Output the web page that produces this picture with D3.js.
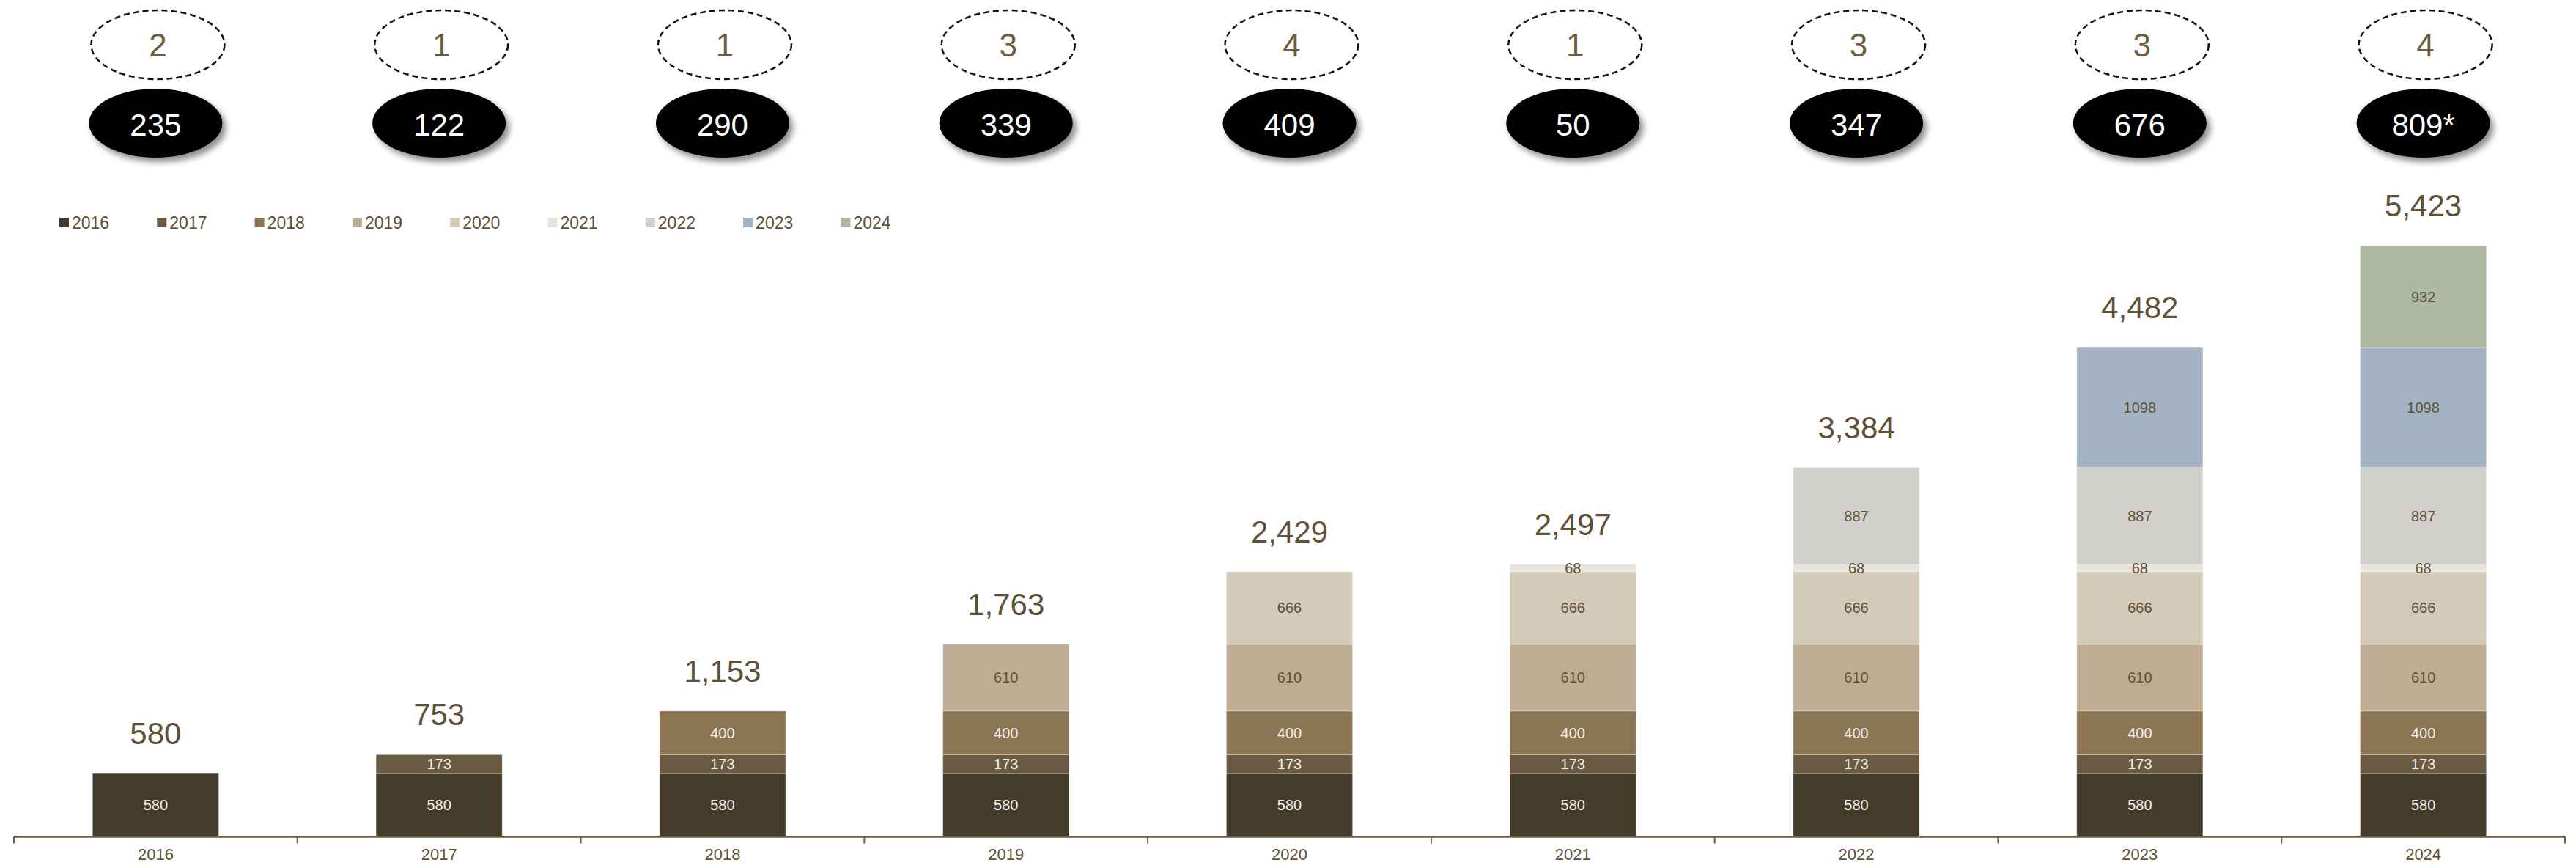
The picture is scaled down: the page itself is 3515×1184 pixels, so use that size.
<!DOCTYPE html>
<html>
<head>
<meta charset="utf-8">
<script src="https://cdn.jsdelivr.net/npm/d3@7"></script>
<style>
  body { margin: 0; background: #fff; }
  text { font-family: "Liberation Sans", Arial, Helvetica, sans-serif; }
</style>
</head>
<body>
<script>
// categories (x axis) and cohorts (legend / stack keys)
const years = ["2016", "2017", "2018", "2019", "2020", "2021", "2022", "2023", "2024"];
const cohorts = ["2016", "2017", "2018", "2019", "2020", "2021", "2022", "2023", "2024"];

// one array per cohort, value in each year
const c2016 = [580, 580, 580, 580, 580, 580, 580, 580, 580];
const c2017 = [0, 173, 173, 173, 173, 173, 173, 173, 173];
const c2018 = [0, 0, 400, 400, 400, 400, 400, 400, 400];
const c2019 = [0, 0, 0, 610, 610, 610, 610, 610, 610];
const c2020 = [0, 0, 0, 0, 666, 666, 666, 666, 666];
const c2021 = [0, 0, 0, 0, 0, 68, 68, 68, 68];
const c2022 = [0, 0, 0, 0, 0, 0, 887, 887, 887];
const c2023 = [0, 0, 0, 0, 0, 0, 0, 1098, 1098];
const c2024 = [0, 0, 0, 0, 0, 0, 0, 0, 932];

const totalLabels = ["580", "753", "1,153", "1,763", "2,429", "2,497", "3,384", "4,482", "5,423"];
const dealCounts = ["2", "1", "1", "3", "4", "1", "3", "3", "4"];
const amountLabels = ["235", "122", "290", "339", "409", "50", "347", "676", "809*"];

const cohortColors = ["#453b2b", "#6a5a41", "#8b7555", "#bead93", "#d3cab7",
                      "#e8e3dc", "#d1d0cc", "#a3b3c4", "#adb89e"];
const darkCohorts = ["2016", "2017", "2018"];

const cohortArrays = [c2016, c2017, c2018, c2019, c2020, c2021, c2022, c2023, c2024];

let width = 3515,
    height = 1184;

let textColor = "#5e5138";

let svg = d3.select("body")
            .append("svg")
            .attr("width", width)
            .attr("height", height);

// drop shadow for the black ovals
let defs = svg.append("defs");
defs.append("filter")
    .attr("id", "shadow")
    .attr("x", "-20%").attr("y", "-20%")
    .attr("width", "150%").attr("height", "150%")
    .append("feDropShadow")
        .attr("dx", 5)
        .attr("dy", 6)
        .attr("stdDeviation", 4)
        .attr("flood-color", "#000")
        .attr("flood-opacity", 0.45);

// build rows for the stack
let rows = years.map((y, i) => {
    let row = {year: y};
    cohorts.forEach((c, j) => row[c] = cohortArrays[j][i]);
    return row;
});

let stackGen = d3.stack().keys(cohorts);
let layers = stackGen(rows);

let xScale = d3.scaleBand()
                .domain(years)
                .range([19, 3500])
                .paddingInner(0.555)
                .paddingOuter(0.2775);

let xStep = xScale.step();

let yScale = d3.scaleLinear()
                .domain([0, 6000])
                .range([1141.5, 1141.5 - 6000 * 0.1489]);

let color = d3.scaleOrdinal()
                .domain(cohorts)
                .range(cohortColors);

let cx = d => xScale(d) + xScale.bandwidth() / 2;

// top ovals: dashed with deal counts, black with amounts
let tops = svg.append("g");

tops.selectAll(".dash-oval")
    .data(years)
    .enter()
    .append("ellipse")
        .attr("cx", d => cx(d) + 3)
        .attr("cy", 61)
        .attr("rx", 91)
        .attr("ry", 47)
        .attr("fill", "none")
        .attr("stroke", "#111")
        .attr("stroke-width", 2.5)
        .attr("stroke-dasharray", "8,5");

tops.selectAll(".deal-count")
    .data(years)
    .enter()
    .append("text")
        .attr("x", d => cx(d) + 3)
        .attr("y", 77)
        .attr("text-anchor", "middle")
        .attr("font-size", 44)
        .attr("fill", "#6b5d42")
        .text((d, i) => dealCounts[i]);

tops.selectAll(".black-oval")
    .data(years)
    .enter()
    .append("ellipse")
        .attr("cx", d => cx(d))
        .attr("cy", 168)
        .attr("rx", 91)
        .attr("ry", 47)
        .attr("fill", "#000")
        .attr("filter", "url(#shadow)");

tops.selectAll(".amount")
    .data(years)
    .enter()
    .append("text")
        .attr("x", d => cx(d))
        .attr("y", 185)
        .attr("text-anchor", "middle")
        .attr("font-size", 42)
        .attr("fill", "#fff")
        .text((d, i) => amountLabels[i]);

// legend
let legend = svg.append("g")
                .attr("transform", "translate(81, 297)");

let legendItem = legend.selectAll(".legend-item")
    .data(cohorts)
    .enter()
    .append("g")
        .attr("transform", (d, i) => `translate(${i * 133.3}, 0)`);

legendItem.append("rect")
    .attr("width", 13)
    .attr("height", 13)
    .attr("fill", d => color(d));

legendItem.append("text")
    .attr("x", 17)
    .attr("y", 14.5)
    .attr("font-size", 23)
    .attr("fill", textColor)
    .text(d => d);

// stacked bars
let layerG = svg.append("g")
    .selectAll(".layer")
    .data(layers)
    .enter()
    .append("g")
        .attr("fill", d => color(d.key));

layerG.selectAll("rect")
    .data(d => d.filter(p => p[1] - p[0] > 0))
    .enter()
    .append("rect")
        .attr("x", d => xScale(d.data.year))
        .attr("width", xScale.bandwidth())
        .attr("y", d => yScale(d[1]))
        .attr("height", d => yScale(d[0]) - yScale(d[1]))
        .attr("stroke", "#fff")
        .attr("stroke-width", 1)
        .attr("stroke-opacity", 0.3);

// segment labels
let segLabels = svg.append("g");
layers.forEach(l => {
    segLabels.selectAll(null)
        .data(l.filter(p => p[1] - p[0] > 0))
        .enter()
        .append("text")
            .attr("x", d => cx(d.data.year))
            .attr("y", d => (yScale(d[0]) + yScale(d[1])) / 2 + 7)
            .attr("text-anchor", "middle")
            .attr("font-size", 20)
            .attr("fill", darkCohorts.includes(l.key) ? "#f3efe8" : textColor)
            .text(d => d[1] - d[0]);
});

// totals above bars
let topLayer = layers[layers.length - 1];
svg.append("g")
    .selectAll("text")
    .data(topLayer)
    .enter()
    .append("text")
        .attr("x", d => cx(d.data.year))
        .attr("y", d => yScale(d[1]) - 40)
        .attr("text-anchor", "middle")
        .attr("font-size", 42)
        .attr("fill", textColor)
        .text((d, i) => totalLabels[i]);

// x axis: labels at band centres, ticks on band boundaries
const xAxis = d3.axisBottom(xScale).tickSize(0).tickPadding(16);

let axisG = svg.append("g")
    .attr("transform", `translate(0, ${yScale(0)})`)
    .call(xAxis);

axisG.select(".domain").remove();
axisG.selectAll("text")
    .attr("font-size", 22)
    .attr("fill", textColor)
    .attr("font-family", "Liberation Sans, Arial, sans-serif");

let xRange = xScale.range();
axisG.append("line")
    .attr("x1", xRange[0])
    .attr("x2", xRange[1])
    .attr("stroke", "#6b5d42")
    .attr("stroke-width", 2.5);

axisG.selectAll(".bound")
    .data(d3.range(years.length + 1))
    .enter()
    .append("line")
        .attr("x1", i => xRange[0] + i * xStep)
        .attr("x2", i => xRange[0] + i * xStep)
        .attr("y1", 0)
        .attr("y2", 9)
        .attr("stroke", "#6b5d42")
        .attr("stroke-width", 2);
</script>
</body>
</html>
